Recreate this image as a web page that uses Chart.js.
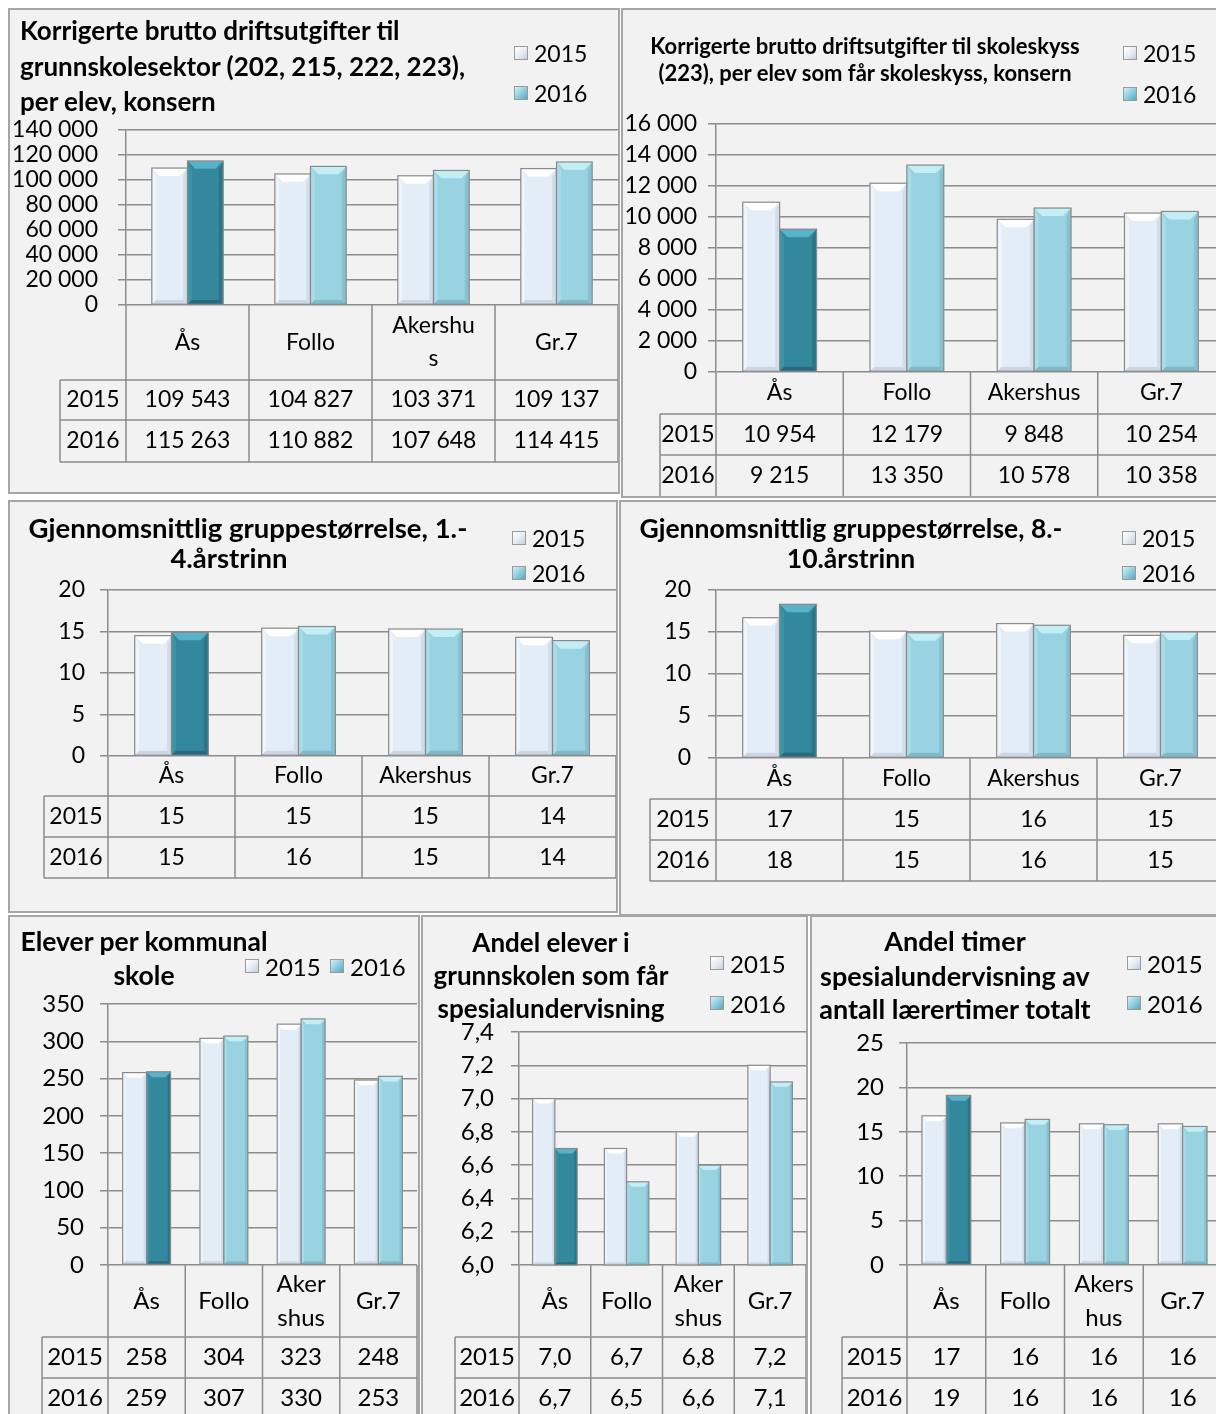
<!DOCTYPE html>
<html lang="no">
<head>
<meta charset="UTF-8">
<title>Grunnskole – nøkkeltall</title>
<script src="https://cdn.jsdelivr.net/npm/chart.js"></script>
<style>
  html, body { margin: 0; padding: 0; background: #fff; }
  body { width: 1216px; height: 1414px; overflow: hidden; position: relative; font-family: Lato, "Open Sans", sans-serif; }
  .panel { position: absolute; box-sizing: border-box; border: 2px solid #a6a6a6; background: #f2f2f2; overflow: hidden; }
  .panel canvas { position: absolute; left: 0; top: 0; }
  .ttl { position: absolute; font-weight: bold; color: #000; white-space: nowrap; }
  .lg { position: absolute; color: #000; white-space: nowrap; display: flex; align-items: center; height: 28px; }
  .sw { display: inline-block; width: 14px; height: 14px; border: 1px solid #9a9a9a; margin-right: 6px; box-sizing: border-box; }
  .sw0 { background: linear-gradient(135deg, #ffffff 0%, #e8eef6 50%, #c4cedb 100%); }
  .sw1 { background: linear-gradient(135deg, #d2f2f8 0%, #8fcfdf 50%, #55a9be 100%); }
</style>
</head>
<body>
<script>
  // kategorier og serier
  const categories = ['Ås', 'Follo', 'Akershus', 'Gr.7'];
  const seriesNames = ['2015', '2016'];

  // kategorinavn slik de brytes i tabellen
  const header1 = ['Ås', 'Follo', ['Akershu', 's'], 'Gr.7'];
  const headerWide = ['Ås', 'Follo', 'Akershus', 'Gr.7'];
  const headerNarrow = ['Ås', 'Follo', ['Aker', 'shus'], 'Gr.7'];
  const header7 = ['Ås', 'Follo', ['Akers', 'hus'], 'Gr.7'];

  // Korrigerte brutto driftsutgifter grunnskolesektor per elev
  const drift2015 = [109543, 104827, 103371, 109137];
  const drift2016 = [115263, 110882, 107648, 114415];
  // skoleskyss per elev
  const skyss2015 = [10954, 12179, 9848, 10254];
  const skyss2016 = [9215, 13350, 10578, 10358];
  // gruppestørrelse 1.-4.
  const gruppeA2015 = [14.5, 15.4, 15.3, 14.3];
  const gruppeA2016 = [14.9, 15.6, 15.3, 13.9];
  // gruppestørrelse 8.-10.
  const gruppeB2015 = [16.7, 15.1, 16.0, 14.6];
  const gruppeB2016 = [18.3, 14.9, 15.8, 15.0];
  // elever per skole
  const elever2015 = [258, 304, 323, 248];
  const elever2016 = [259, 307, 330, 253];
  // andel elever med spesialundervisning
  const spesElev2015 = [7.0, 6.7, 6.8, 7.2];
  const spesElev2016 = [6.7, 6.5, 6.6, 7.1];
  // andel timer spesialundervisning
  const spesTimer2015 = [16.8, 16.0, 15.9, 15.9];
  const spesTimer2016 = [19.1, 16.4, 15.8, 15.6];

  const fmtThousands = v => String(Math.round(v)).replace(/\B(?=(\d{3})+(?!\d))/g, ' ');
  const fmtRound = v => String(Math.round(v));
  const fmtDec1 = v => v.toFixed(1).replace('.', ',');

  const LINE = '#8c8c8c';
  const FONT = 'Lato';

  const facets = {
    '#e3edf8': { top: '#ffffff', left: '#eef4fb', right: '#d3dde9', bottom: '#cdd7e3' },
    '#33889d': { top: '#58b2c9', left: '#3b93a8', right: '#2a7588', bottom: '#266a7b' },
    '#99d3e1': { top: '#c4eef6', left: '#a8dce9', right: '#86c2d1', bottom: '#80bac9' }
  };

  function poly(ctx, pts, color) {
    ctx.fillStyle = color;
    ctx.beginPath();
    ctx.moveTo(pts[0][0], pts[0][1]);
    for (let i = 1; i < pts.length; i++) ctx.lineTo(pts[i][0], pts[i][1]);
    ctx.closePath();
    ctx.fill();
  }

  // 3D-aktig kant på søylene
  const bevelPlugin = {
    id: 'bevel',
    afterDatasetsDraw(chart) {
      const ctx = chart.ctx;
      const a = chart.chartArea;
      ctx.save();
      chart.data.datasets.forEach((ds, di) => {
        chart.getDatasetMeta(di).data.forEach((bar, i) => {
          const p = bar.getProps(['x', 'y', 'base', 'width'], true);
          const l = p.x - p.width / 2, r = p.x + p.width / 2;
          const t = Math.max(p.y, a.top), b = Math.min(p.base, a.bottom);
          if (b <= t) return;
          const col = Array.isArray(ds.backgroundColor) ? ds.backgroundColor[i] : ds.backgroundColor;
          const f = facets[col];
          const s = Math.min(8, p.width * 0.22, (b - t) / 2);
          const sv = s * 0.55;
          poly(ctx, [[l, t], [r, t], [r - s, t + s], [l + s, t + s]], f.top);
          poly(ctx, [[l, t], [l + sv, t + s], [l + sv, b - sv], [l, b]], f.left);
          poly(ctx, [[r, t], [r, b], [r - sv, b - sv], [r - sv, t + s]], f.right);
          poly(ctx, [[l, b], [l + sv, b - sv], [r - sv, b - sv], [r, b]], f.bottom);
          ctx.strokeStyle = '#8a8a8a';
          ctx.lineWidth = 1.2;
          ctx.strokeRect(l, t, r - l, b - t);
        });
      });
      ctx.restore();
    }
  };

  // datatabell under diagrammet
  const tablePlugin = {
    id: 'dataTable',
    afterDraw(chart, args, o) {
      const { ctx, chartArea: a } = chart;
      const x = chart.scales.x;
      const n = chart.data.labels.length;
      const cw = (a.right - a.left) / n;
      const [hb, r1, r2] = o.rows;
      ctx.save();
      ctx.strokeStyle = LINE;
      ctx.lineWidth = 1.5;
      ctx.beginPath();
      for (let i = 0; i <= n; i++) {
        const xx = a.left + i * cw;
        ctx.moveTo(xx, a.bottom);
        ctx.lineTo(xx, r2);
      }
      ctx.moveTo(o.labelLeft, hb);
      ctx.lineTo(o.labelLeft, r2);
      [hb, r1, r2].forEach(yy => { ctx.moveTo(o.labelLeft, yy); ctx.lineTo(a.right, yy); });
      ctx.stroke();

      ctx.fillStyle = '#000';
      ctx.textAlign = 'center';
      ctx.textBaseline = 'middle';
      ctx.font = o.size + 'px ' + FONT;
      o.header.forEach((lab, i) => {
        const lines = [].concat(lab);
        const cx = x.getPixelForValue(i);
        lines.forEach((t, j) => {
          ctx.fillText(t, cx, (a.bottom + hb) / 2 + (j - (lines.length - 1) / 2) * o.lineH);
        });
      });
      chart.data.datasets.forEach((ds, k) => {
        const yc = k === 0 ? (hb + r1) / 2 : (r1 + r2) / 2;
        ctx.fillText(ds.label, (o.labelLeft + a.left) / 2, yc);
        ds.data.forEach((v, i) => ctx.fillText(o.fmt(v), x.getPixelForValue(i), yc));
      });
      ctx.restore();
    }
  };

  const charts = [
    { panel: [8, 8, 612, 486], plot: [126, 130, 618, 305], labelLeft: 60, rows: [380, 420, 462],
      y: [0, 140000, 20000], yPad: 20, fs: 23, lineH: 33, catPct: 0.58,
      header: header1, s15: drift2015, s16: drift2016, fmt: fmtThousands, tick: fmtThousands,
      title: { size: 26, align: 'left', x: 20, lines: [['Korrigerte brutto driftsutgifter til', 30], ['grunnskolesektor (202, 215, 222, 223),', 66], ['per elev, konsern', 101]] },
      legend: [[514, 53], [514, 93]] },
    { panel: [621, 8, 610, 490], plot: [716, 124, 1225, 372], labelLeft: 660, rows: [414, 455, 497],
      y: [0, 16000, 2000], yPad: 11, fs: 23, lineH: 33, catPct: 0.58,
      header: headerWide, s15: skyss2015, s16: skyss2016, fmt: fmtThousands, tick: fmtThousands,
      title: { size: 22, align: 'center', x: 865, lines: [['Korrigerte brutto driftsutgifter til skoleskyss', 45], ['(223), per elev som får skoleskyss, konsern', 72]] },
      legend: [[1123, 53], [1123, 94]] },
    { panel: [8, 500, 610, 413], plot: [108, 590, 616, 756], labelLeft: 44, rows: [796, 837, 878],
      y: [0, 20, 5], yPad: 15, fs: 23, lineH: 33, catPct: 0.58,
      header: headerWide, s15: gruppeA2015, s16: gruppeA2016, fmt: fmtRound, tick: fmtRound,
      title: { size: 27.5, align: 'center', x: 248, lines: [['Gjennomsnittlig gruppestørrelse, 1.-', 528], ['4.årstrinn', 558, 229]] },
      legend: [[512, 538], [512, 573]] },
    { panel: [619, 500, 612, 416], plot: [716, 590, 1224, 758], labelLeft: 650, rows: [799, 840, 881],
      y: [0, 20, 5], yPad: 17, fs: 23, lineH: 33, catPct: 0.58,
      header: headerWide, s15: gruppeB2015, s16: gruppeB2016, fmt: fmtRound, tick: fmtRound,
      title: { size: 26.5, align: 'center', x: 851, lines: [['Gjennomsnittlig gruppestørrelse, 8.-', 528], ['10.årstrinn', 558]] },
      legend: [[1122, 538], [1122, 573]] },
    { panel: [8, 915, 412, 520], plot: [108, 1004, 417, 1265], labelLeft: 42, rows: [1337, 1378, 1419],
      y: [0, 350, 50], yPad: 16, fs: 24, lineH: 34, catPct: 0.62,
      header: headerNarrow, s15: elever2015, s16: elever2016, fmt: fmtRound, tick: fmtRound,
      title: { size: 26.5, align: 'center', x: 144, lines: [['Elever per kommunal', 941], ['skole', 975]] },
      legend: [[245, 966], [330, 966]] },
    { panel: [421, 915, 387, 520], plot: [519, 1032, 806, 1265], labelLeft: 455, rows: [1337, 1378, 1419],
      y: [6, 7.4, 0.2], yPad: 17, fs: 24, lineH: 34, catPct: 0.62,
      header: headerNarrow, s15: spesElev2015, s16: spesElev2016, fmt: fmtDec1, tick: fmtDec1,
      title: { size: 26, align: 'center', x: 551, lines: [['Andel elever i', 942], ['grunnskolen som får', 975], ['spesialundervisning', 1008]] },
      legend: [[710, 963], [710, 1003]] },
    { panel: [810, 915, 420, 520], plot: [907, 1043, 1222, 1265], labelLeft: 842, rows: [1337, 1378, 1419],
      y: [0, 25, 5], yPad: 15, fs: 24, lineH: 34, catPct: 0.62,
      header: header7, s15: spesTimer2015, s16: spesTimer2016, fmt: fmtRound, tick: fmtRound,
      title: { size: 27, align: 'center', x: 955, lines: [['Andel timer', 940], ['spesialundervisning av', 975], ['antall lærertimer totalt', 1008]] },
      legend: [[1127, 963], [1127, 1003]] }
  ];

  charts.forEach(c => {
    const [px, py, pw, ph] = c.panel;
    const ox = px + 2, oy = py + 2, iw = pw - 4, ih = ph - 4;
    const panel = document.createElement('div');
    panel.className = 'panel';
    panel.style.cssText = `left:${px}px;top:${py}px;width:${pw}px;height:${ph}px`;
    const canvas = document.createElement('canvas');
    canvas.width = iw;
    canvas.height = ih;
    panel.appendChild(canvas);

    c.title.lines.forEach(([txt, cy, cx]) => {
      const d = document.createElement('div');
      d.className = 'ttl';
      d.textContent = txt;
      const lh = Math.round(c.title.size * 1.3);
      d.style.fontSize = c.title.size + 'px';
      d.style.lineHeight = lh + 'px';
      d.style.top = (cy - oy - lh / 2) + 'px';
      if (c.title.align === 'left') {
        d.style.left = (c.title.x - ox) + 'px';
      } else {
        d.style.left = ((cx || c.title.x) - ox - 300) + 'px';
        d.style.width = '600px';
        d.style.textAlign = 'center';
      }
      panel.appendChild(d);
    });

    seriesNames.forEach((name, k) => {
      const [lx, ly] = c.legend[k];
      const d = document.createElement('div');
      d.className = 'lg';
      d.style.left = (lx - ox) + 'px';
      d.style.top = (ly - oy - 14) + 'px';
      d.style.fontSize = (c.fs) + 'px';
      d.innerHTML = `<span class="sw sw${k}"></span>${name}`;
      panel.appendChild(d);
    });

    document.body.appendChild(panel);

    const [L, T, R, B] = c.plot;
    new Chart(canvas, {
      type: 'bar',
      data: {
        labels: categories,
        datasets: [
          { label: seriesNames[0], data: c.s15, backgroundColor: '#e3edf8', borderWidth: 0 },
          { label: seriesNames[1], data: c.s16, backgroundColor: ['#33889d', '#99d3e1', '#99d3e1', '#99d3e1'], borderWidth: 0 }
        ]
      },
      options: {
        responsive: false,
        animation: false,
        events: [],
        layout: { padding: { left: 0, top: T - oy, right: (ox + iw) - R, bottom: (oy + ih) - B } },
        datasets: { bar: { categoryPercentage: c.catPct, barPercentage: 1 } },
        plugins: {
          legend: { display: false },
          tooltip: { enabled: false },
          dataTable: { labelLeft: c.labelLeft - ox, rows: c.rows.map(r => r - oy), header: c.header, fmt: c.fmt, size: c.fs, lineH: c.lineH }
        },
        scales: {
          x: { display: false },
          y: {
            min: c.y[0], max: c.y[1],
            afterFit: s => { s.width = L - ox; },
            ticks: { stepSize: c.y[2], autoSkip: false, padding: c.yPad, color: '#000', font: { family: FONT, size: c.fs }, callback: v => c.tick(v) },
            grid: { color: LINE, lineWidth: 1.5, tickLength: 8 },
            border: { color: LINE, width: 1.5 }
          }
        }
      },
      plugins: [bevelPlugin, tablePlugin]
    });
  });
</script>
</body>
</html>
